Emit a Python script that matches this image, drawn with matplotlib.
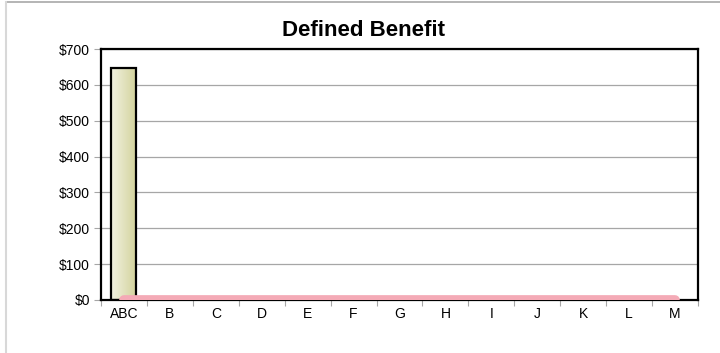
import numpy as np
import matplotlib
matplotlib.use("Agg")
import matplotlib.pyplot as plt
from matplotlib.colors import LinearSegmentedColormap
from matplotlib.lines import Line2D

plt.rcParams['font.family'] = ['Liberation Sans', 'DejaVu Sans']

# Data
categories = ["ABC", "B", "C", "D", "E", "F", "G", "H", "I", "J", "K", "L", "M"]
bar_values = [648]
line_values = [0, 0, 0, 0, 0, 0, 0, 0, 0, 0, 0, 0, 0]
y_ticks = [0, 100, 200, 300, 400, 500, 600, 700]
title = "Defined Benefit"

fig = plt.figure(figsize=(7.2, 3.53), dpi=100)
ax = fig.add_axes([101 / 720, 1 - 300 / 353, 597 / 720, 251 / 353])

x = np.arange(len(categories))
bar_width = 0.545

# Bar with horizontal gradient fill
cmap = LinearSegmentedColormap.from_list("olive", ["#f2f2e2", "#d2d29a"])
bars = ax.bar(x[:len(bar_values)], bar_values, width=bar_width,
              facecolor="none", edgecolor="black", linewidth=1.6, zorder=3)
grad = np.linspace(0, 1, 256).reshape(1, -1)
for b in bars:
    x0, y0 = b.get_x(), b.get_y()
    w, h = b.get_width(), b.get_height()
    im = ax.imshow(grad, extent=(x0, x0 + w, y0, y0 + h), aspect="auto",
                   cmap=cmap, zorder=2.5, interpolation="bicubic")
    im.set_clip_path(b)

# Line series along the baseline (lower half falls outside the plot area)
ax.plot(x, line_values, color="#f4aab6", linewidth=7.0,
        solid_capstyle="round", zorder=4, clip_on=True)

ax.set_xlim(-0.5, len(categories) - 0.5)
ax.set_ylim(0, 700)
ax.set_yticks(y_ticks)
ax.set_yticklabels([f"${v}" for v in y_ticks], fontsize=10)
ax.yaxis.grid(True, color="#a6a6a6", linewidth=0.9)
ax.set_axisbelow(True)
ax.tick_params(axis="y", length=5, width=0.8, color="#a6a6a6", pad=3)

ax.set_xticks(x)
ax.set_xticklabels(categories, fontsize=10)
ax.tick_params(axis="x", length=0, pad=5)
ax.set_xticks(np.arange(-0.5, len(categories), 1), minor=True)
ax.tick_params(axis="x", which="minor", length=4, width=0.8, color="#a6a6a6")

for s in ax.spines.values():
    s.set_color("black")
    s.set_linewidth(1.6)

fig.text(363 / 720, 1 - 30 / 353, title, ha="center", va="center",
         fontsize=16, fontweight="bold")

# Outer frame
fig.add_artist(Line2D([6 / 720, 1], [1 - 2 / 353, 1 - 2 / 353],
                      transform=fig.transFigure, color="#a8a8a8", linewidth=1.2))
fig.add_artist(Line2D([6.5 / 720, 6.5 / 720], [0, 1 - 2 / 353],
                      transform=fig.transFigure, color="#d8d8d8", linewidth=1.5))

fig.savefig("out.png", dpi=100)
